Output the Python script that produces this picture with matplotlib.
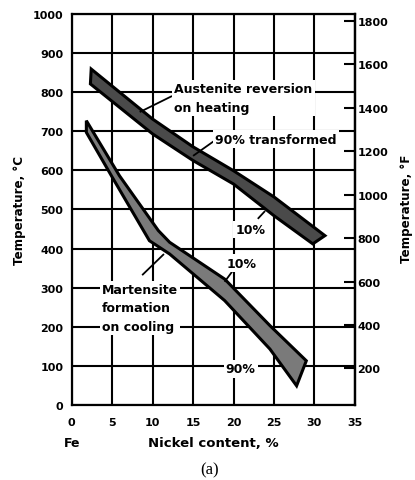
import matplotlib.pyplot as plt
import numpy as np

# band edges (nickel %, temperature degC)
aust_upper_x = [2.4, 10, 15, 20, 25, 31.3]
aust_upper_t = [859, 731, 660, 599, 532, 433]
aust_lower_x = [2.3, 10, 15, 20, 25, 29.8]
aust_lower_t = [821, 693, 625, 565, 484, 412]

mart_upper_x = [1.8, 5.9, 10.7, 12.1, 18.9, 24.5, 29.0]
mart_upper_t = [727, 586, 446, 416, 322, 203, 113]
mart_lower_x = [1.8, 4.9, 9.6, 12.1, 18.9, 24.5, 27.8]
mart_lower_t = [697, 586, 420, 386, 267, 143, 49]

x_ticks = [0, 5, 10, 15, 20, 25, 30, 35]
c_ticks = [0, 100, 200, 300, 400, 500, 600, 700, 800, 900, 1000]
f_ticks = [200, 400, 600, 800, 1000, 1200, 1400, 1600, 1800]

BOLD = dict(fontweight="bold", fontsize=8, family="DejaVu Sans")
NOTE = dict(fontweight="bold", fontsize=9, family="DejaVu Sans")

fig = plt.figure(figsize=(4.15, 4.81), dpi=100)
ax = fig.add_axes([0.173, 0.156, 0.682, 0.813])

ax.set_xlim(0, 35)
ax.set_ylim(0, 1000)
ax.set_xticks(x_ticks)
ax.set_yticks(c_ticks)
ax.set_xticklabels([str(v) for v in x_ticks], **BOLD)
ax.set_yticklabels([str(v) for v in c_ticks], **BOLD)
ax.tick_params(length=0, pad=9, axis="x")
ax.tick_params(length=0, pad=6, axis="y")
ax.grid(True, color="black", linewidth=1.5, zorder=1)
ax.set_axisbelow(True)
for s in ax.spines.values():
    s.set_linewidth(1.6)

# shaded bands
def band(ux, ut, lx, lt, fc):
    px = list(ux) + list(lx)[::-1]
    pt = list(ut) + list(lt)[::-1]
    ax.fill(px, pt, facecolor=fc, edgecolor="black", linewidth=2.2,
            zorder=3)

band(aust_upper_x, aust_upper_t, aust_lower_x, aust_lower_t, "#4a4a4a")
band(mart_upper_x, mart_upper_t, mart_lower_x, mart_lower_t, "#7a7a7a")

box = dict(facecolor="white", edgecolor="none", pad=1.5)

def label(x, y, s, ha="center", va="center"):
    ax.text(x, y, s, ha=ha, va=va, bbox=box, zorder=4, linespacing=1.55, **NOTE)

def leader(x0, y0, x1, y1):
    ax.plot([x0, x1], [y0, y1], color="black", linewidth=1.3, zorder=3,
            solid_capstyle="butt")

label(12.7, 785, "Austenite reversion\non heating", ha="left")
leader(8.4, 749, 12.4, 790)
label(17.7, 680, "90% transformed", ha="left")
leader(15.0, 637, 17.8, 678)
label(22.1, 448, "10%")
leader(23.0, 476, 23.9, 496)
label(21.0, 363, "10%")
leader(18.9, 315, 19.9, 343)
label(20.9, 92, "90%")
label(3.7, 248, "Martensite\nformation\non cooling", ha="left")
leader(8.7, 332, 11.4, 386)

# Fahrenheit axis
sec = ax.secondary_yaxis("right", functions=(lambda c: c * 9 / 5 + 32,
                                             lambda f: (f - 32) * 5 / 9))
sec.set_yticks(f_ticks)
sec.set_yticklabels([str(v) for v in f_ticks], **BOLD)
sec.tick_params(direction="in", length=8, width=1.5, pad=2)
sec.spines["right"].set_linewidth(1.6)

ax.text(0, -0.095, "Fe", transform=ax.get_xaxis_transform(),
        ha="center", va="center", **NOTE)
ax.text(0.5, -0.095, "Nickel content, %", transform=ax.transAxes,
        ha="center", va="center", fontweight="bold", fontsize=9.5,
        family="DejaVu Sans")

fig.text(20 / 415, 0.562, "Temperature, °C", rotation=90, ha="center",
         va="center", fontweight="bold", fontsize=8.6, family="DejaVu Sans")
fig.text(406 / 415, 0.565, "Temperature, °F", rotation=90, ha="center",
         va="center", fontweight="bold", fontsize=8.6, family="DejaVu Sans")
fig.text(0.504, 0.022, "(a)", ha="center", va="center", fontsize=12,
         family="Liberation Serif")

fig.savefig("out.png", dpi=100)
